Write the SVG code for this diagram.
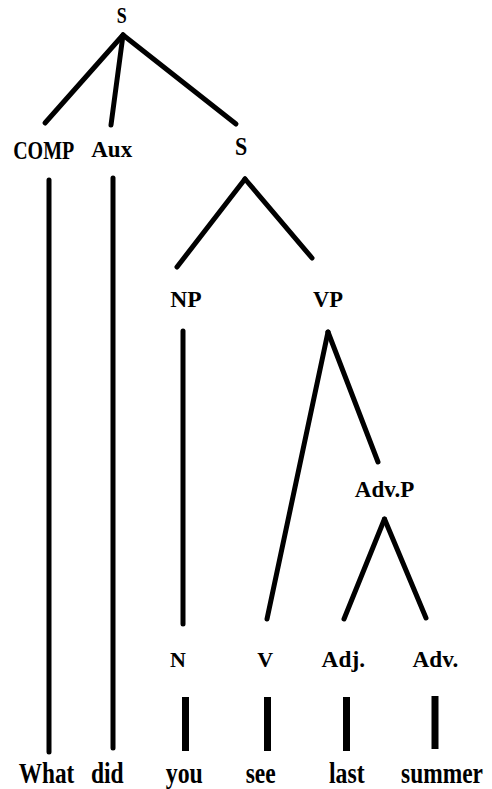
<svg xmlns="http://www.w3.org/2000/svg" width="492" height="789" viewBox="0 0 492 789">
<style>
.e{stroke:#000;stroke-width:5;stroke-linecap:round;fill:none}
.b{stroke:#000;stroke-width:7;stroke-linecap:butt;fill:none}
text{font-family:"Liberation Serif","Times New Roman",serif;font-weight:bold;text-anchor:middle;fill:#000}
</style>
<rect width="492" height="789" fill="#fff"/>
<g id="connectors">
<line class="e" x1="123" y1="35" x2="45" y2="123"/>
<line class="e" x1="123" y1="35" x2="111" y2="125"/>
<line class="e" x1="123" y1="35" x2="236" y2="124"/>
<line class="e" x1="49" y1="180" x2="49" y2="752"/>
<line class="e" x1="113" y1="178" x2="113" y2="748"/>
<line class="e" x1="245" y1="179" x2="177" y2="267"/>
<line class="e" x1="245" y1="179" x2="312" y2="258"/>
<line class="e" x1="183" y1="331" x2="183" y2="624"/>
<line class="e" x1="328" y1="332" x2="267" y2="619"/>
<line class="e" x1="328" y1="332" x2="378" y2="462"/>
<line class="e" x1="384.5" y1="519" x2="344" y2="619"/>
<line class="e" x1="384.5" y1="519" x2="426" y2="618"/>
<line class="b" x1="185.5" y1="697" x2="185.5" y2="751"/>
<line class="b" x1="267.5" y1="697" x2="267.5" y2="751"/>
<line class="b" x1="346.5" y1="697" x2="346.5" y2="751"/>
<line class="b" x1="435" y1="696" x2="435" y2="749"/>
</g>
<g id="S-top"><text font-size="18" transform="translate(121.7,23.3) scale(1,1.33)">S</text></g>
<g id="COMP"><text font-size="20" transform="translate(43.7,159) scale(1,1.25)">COMP</text></g>
<g id="Aux"><text font-size="23" transform="translate(111.7,157)">Aux</text></g>
<g id="S-inner"><text font-size="22" transform="translate(241,155) scale(1,1.12)">S</text></g>
<g id="NP"><text font-size="23.5" x="186" y="306.7">NP</text></g>
<g id="VP"><text font-size="22.5" x="328" y="306.7">VP</text></g>
<g id="AdvP"><text font-size="23" x="384.5" y="497">Adv.P</text></g>
<g id="N"><text font-size="22" x="178" y="666.7">N</text></g>
<g id="V"><text font-size="22" x="265.3" y="666.7">V</text></g>
<g id="Adj"><text font-size="23.3" x="343.3" y="666.7">Adj.</text></g>
<g id="Adv"><text font-size="23.2" x="435.5" y="666.7">Adv.</text></g>
<g id="w-what"><text font-size="23.2" transform="translate(46.5,783) scale(1,1.25)">What</text></g>
<g id="w-did"><text font-size="23.5" transform="translate(107.3,783) scale(1,1.25)">did</text></g>
<g id="w-you"><text font-size="23.8" transform="translate(184.3,783) scale(1,1.25)">you</text></g>
<g id="w-see"><text font-size="23.5" transform="translate(260.7,783) scale(1,1.25)">see</text></g>
<g id="w-last"><text font-size="23.8" transform="translate(346.8,783) scale(1,1.25)">last</text></g>
<g id="w-summer"><text font-size="23.4" transform="translate(442,783) scale(1,1.25)">summer</text></g>
</svg>
